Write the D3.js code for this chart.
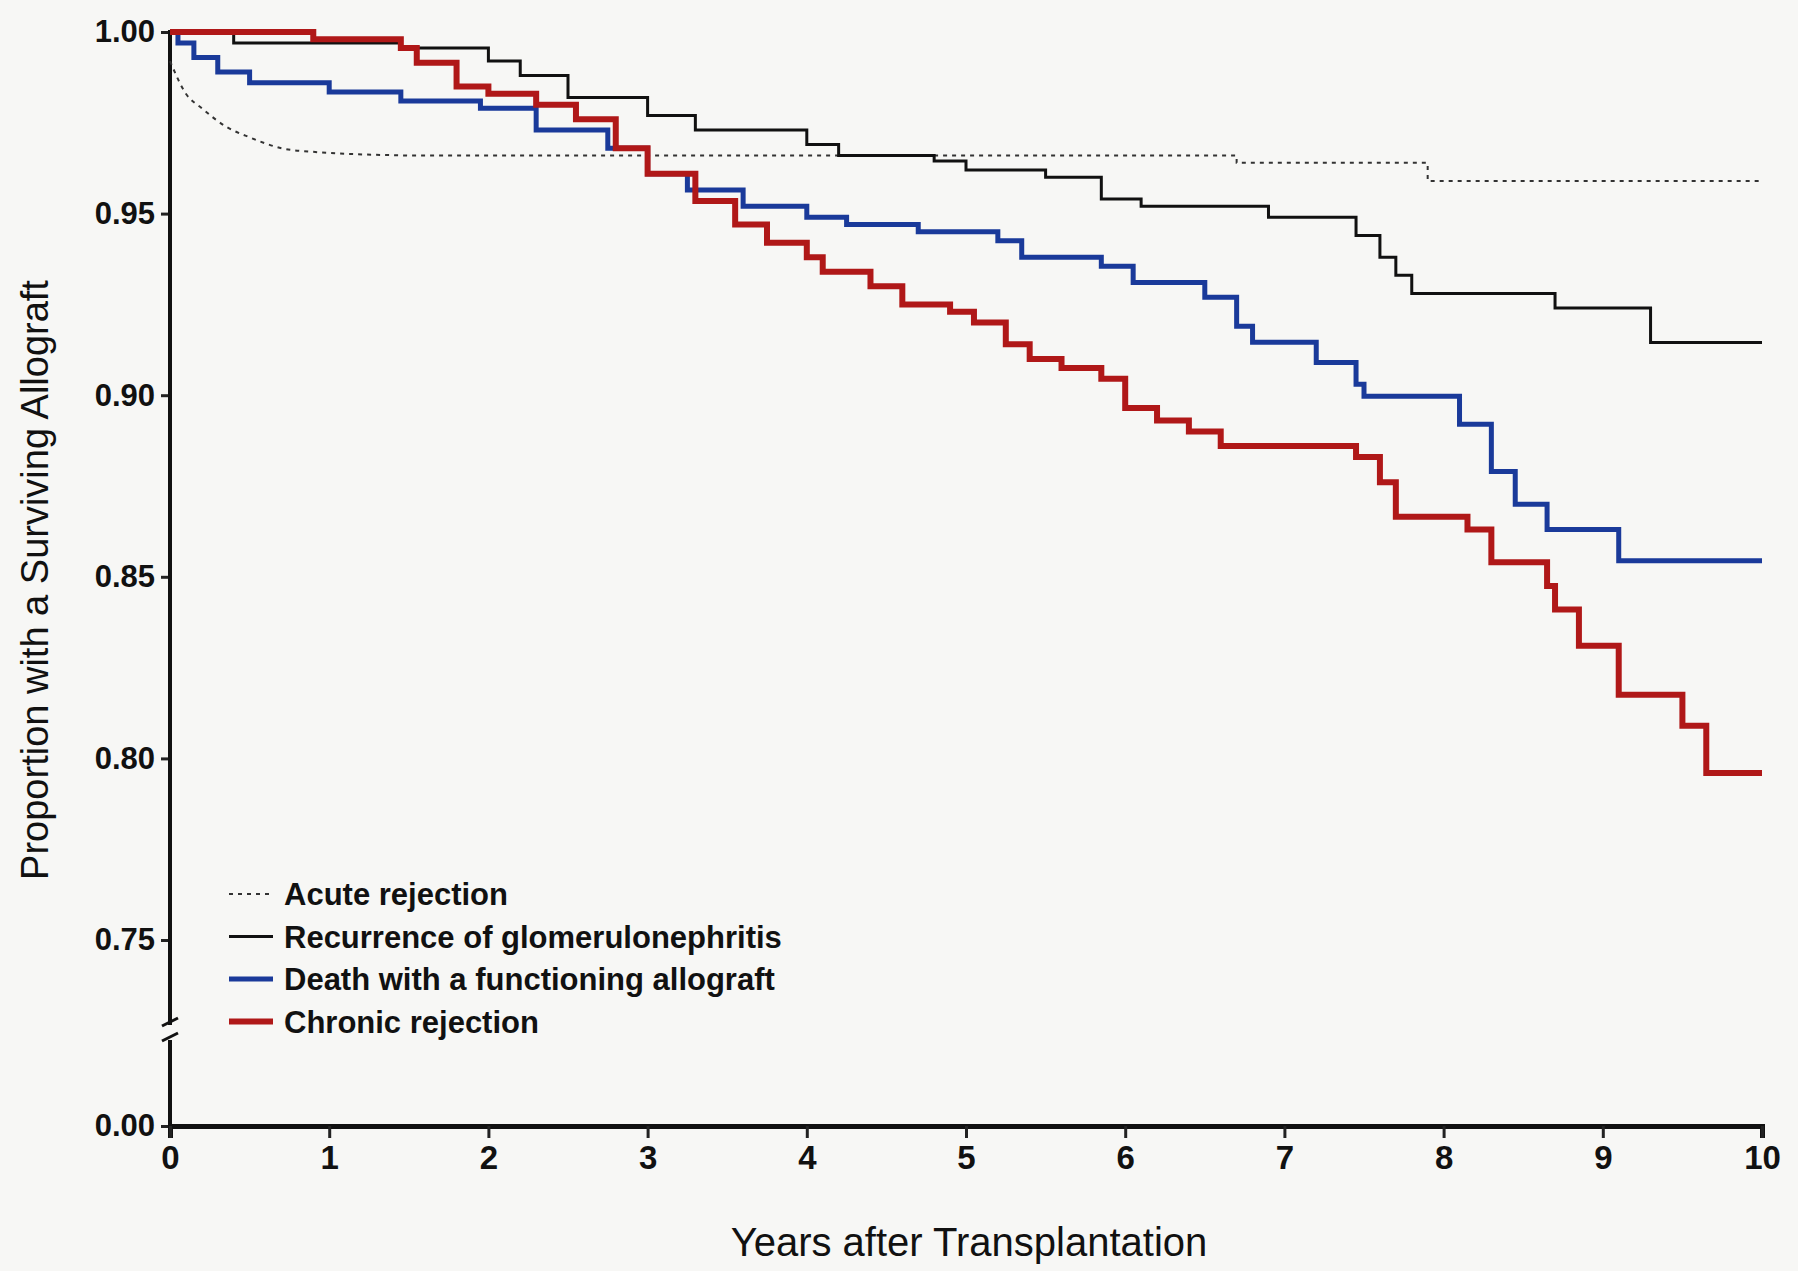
<!DOCTYPE html>
<html>
<head>
<meta charset="utf-8">
<script src="https://cdn.jsdelivr.net/npm/d3@7"></script>
<style>
  body { margin: 0; background: #f7f7f5; }
  text { font-family: "Liberation Sans Narrow", "Arial Narrow", "Liberation Sans", sans-serif; fill: #111; }
</style>
</head>
<body>
<svg id="chart" width="1798" height="1271"></svg>
<script>
// DATA: [years, proportion]
const acute = [[0,0.992],[0.1,0.983],[0.2,0.979],[0.35,0.974],[0.5,0.971],[0.7,0.968],[0.9,0.967],[1.5,0.966],[6.7,0.964],[7.9,0.959],[10,0.959]];
const recurrence = [[0,1.0],[0.4,0.997],[1.45,0.9956],[2,0.992],[2.2,0.988],[2.5,0.982],[3,0.977],[3.3,0.973],[4,0.969],[4.2,0.966],[4.8,0.9645],[5,0.962],[5.5,0.96],[5.85,0.954],[6.1,0.952],[6.9,0.949],[7.45,0.944],[7.6,0.938],[7.7,0.933],[7.8,0.928],[8.7,0.924],[9.3,0.9145],[10,0.9145]];
const death = [[0,1.0],[0.05,0.997],[0.15,0.993],[0.3,0.989],[0.5,0.986],[1.0,0.9835],[1.45,0.981],[1.95,0.979],[2.3,0.973],[2.75,0.968],[3,0.961],[3.25,0.9565],[3.6,0.952],[4,0.949],[4.25,0.947],[4.7,0.945],[5.2,0.9425],[5.35,0.938],[5.85,0.9355],[6.05,0.931],[6.5,0.927],[6.7,0.919],[6.8,0.9146],[7.2,0.909],[7.45,0.903],[7.5,0.8997],[8.1,0.892],[8.3,0.879],[8.45,0.87],[8.65,0.863],[9.1,0.8544],[10,0.8544]];
const chronic = [[0,1.0],[0.9,0.998],[1.45,0.9956],[1.55,0.9915],[1.8,0.985],[2,0.983],[2.3,0.980],[2.55,0.976],[2.8,0.968],[3,0.961],[3.3,0.9535],[3.55,0.947],[3.75,0.942],[4,0.938],[4.1,0.934],[4.4,0.93],[4.6,0.925],[4.9,0.923],[5.05,0.92],[5.25,0.914],[5.4,0.910],[5.6,0.9075],[5.85,0.9045],[6.0,0.8965],[6.2,0.893],[6.4,0.89],[6.6,0.886],[7.45,0.883],[7.6,0.876],[7.7,0.8665],[8.15,0.863],[8.3,0.854],[8.65,0.8475],[8.7,0.841],[8.85,0.831],[9.1,0.8175],[9.5,0.809],[9.65,0.796],[10,0.796]];

const series = [
  { name: "Acute rejection", data: acute, color: "#333", width: 2, dash: "4,5" },
  { name: "Recurrence of glomerulonephritis", data: recurrence, color: "#111", width: 3, dash: null },
  { name: "Death with a functioning allograft", data: death, color: "#1a3a9a", width: 5, dash: null },
  { name: "Chronic rejection", data: chronic, color: "#b01818", width: 6, dash: null }
];
const xTicks = [0,1,2,3,4,5,6,7,8,9,10];
const yTicks = [0.75,0.80,0.85,0.90,0.95,1.00];

const svg = d3.select("#chart");
const x = d3.scaleLinear().domain([0, 10]).range([170, 1762]);
const y = d3.scaleLinear().domain([0.75, 1.0]).range([940, 32]);
const yZero = 1126;

const fmt = d3.format(".2f");

// y axis upper part
const yAxis = svg.append("g").attr("transform", "translate(170,0)")
  .call(d3.axisLeft(y).tickValues(yTicks).tickFormat(fmt).tickSize(9).tickPadding(6));
yAxis.select(".domain").remove();
yAxis.selectAll("line").attr("stroke", "#222").attr("stroke-width", 3);
yAxis.selectAll("text").attr("font-size", 31).attr("font-weight", "bold");

// zero tick
const zeroAxis = svg.append("g").attr("transform", "translate(170," + (yZero - y(0.75)) + ")")
  .call(d3.axisLeft(y).tickValues([0.75]).tickFormat(() => "0.00").tickSize(9).tickPadding(6));
zeroAxis.select(".domain").remove();
zeroAxis.selectAll("line").attr("stroke", "#222").attr("stroke-width", 3);
zeroAxis.selectAll("text").attr("font-size", 31).attr("font-weight", "bold");

// axis line with break
svg.append("line").attr("x1", 170).attr("x2", 170).attr("y1", 30).attr("y2", 1025)
  .attr("stroke", "#111").attr("stroke-width", 4);
svg.append("line").attr("x1", 170).attr("x2", 170).attr("y1", 1040).attr("y2", yZero)
  .attr("stroke", "#111").attr("stroke-width", 4);
[1022, 1037].forEach(v => svg.append("line")
  .attr("x1", 162).attr("x2", 178).attr("y1", v + 4).attr("y2", v - 4)
  .attr("stroke", "#111").attr("stroke-width", 3));

// x axis
const xAxis = svg.append("g").attr("transform", "translate(0," + yZero + ")")
  .call(d3.axisBottom(x).tickValues(xTicks).tickFormat(d3.format("d")).tickSize(12).tickPadding(8));
xAxis.select(".domain").attr("stroke", "#111").attr("stroke-width", 5);
xAxis.selectAll("line").attr("stroke", "#222").attr("stroke-width", 3);
xAxis.selectAll("text").attr("font-size", 33).attr("font-weight", "bold");

// titles
svg.append("text").attr("x", 969).attr("y", 1256).attr("text-anchor", "middle")
  .attr("font-size", 40).text("Years after Transplantation");
svg.append("text").attr("transform", "translate(48,580) rotate(-90)").attr("text-anchor", "middle")
  .attr("font-size", 38).attr("font-family", "Liberation Sans, Arial, sans-serif")
  .text("Proportion with a Surviving Allograft");

// lines
const line = d3.line().x(d => x(d[0])).y(d => y(d[1])).curve(d3.curveStepAfter);
const smooth = d3.line().x(d => x(d[0])).y(d => y(d[1])).curve(d3.curveMonotoneX);
series.forEach(s => {
  const d = s.name === "Acute rejection"
    ? smooth(s.data.slice(0, 8)) + line(s.data.slice(7)).replace(/^M/, "L")
    : line(s.data);
  svg.append("path")
    .attr("fill", "none").attr("stroke", s.color).attr("stroke-width", s.width)
    .attr("stroke-dasharray", s.dash).attr("d", d);
});

// legend
const legend = svg.append("g").attr("transform", "translate(229,894)");
series.forEach((s, i) => {
  const g = legend.append("g").attr("transform", "translate(0," + (i * 42.5) + ")");
  g.append("line").attr("x1", 0).attr("x2", 44).attr("y1", 0).attr("y2", 0)
    .attr("stroke", s.color).attr("stroke-width", s.width).attr("stroke-dasharray", s.dash);
  g.append("text").attr("x", 55).attr("y", 11).attr("font-size", 31).attr("font-weight", "bold").text(s.name);
});
</script>
</body>
</html>
